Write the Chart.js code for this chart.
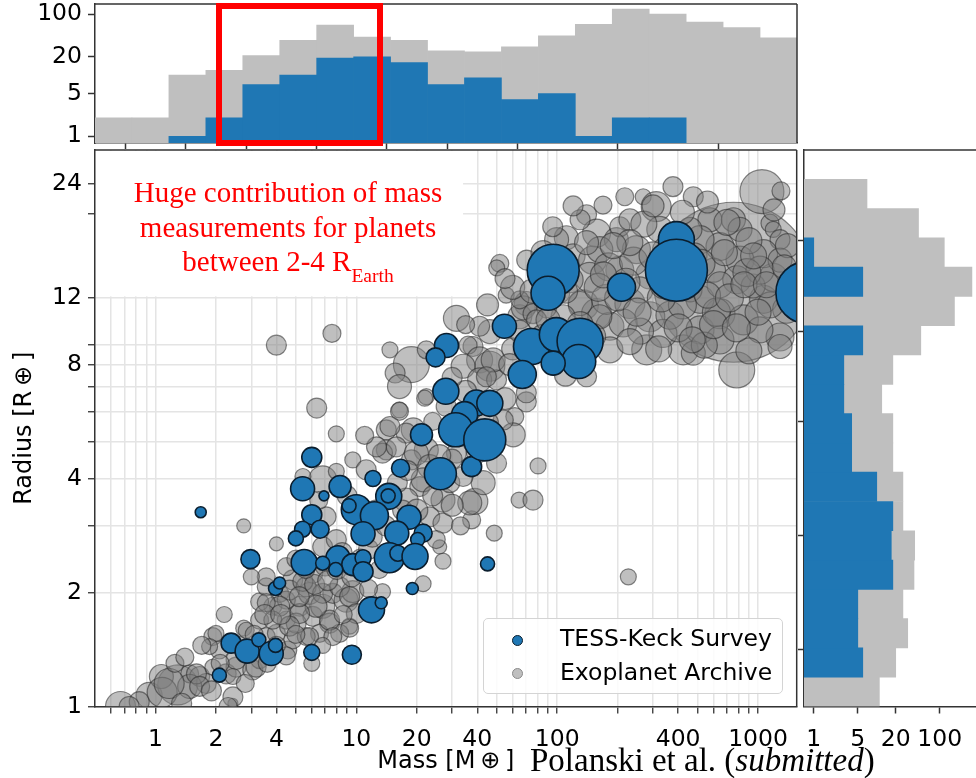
<!DOCTYPE html>
<html lang="en">
<head>
<meta charset="UTF-8">
<title>Mass-radius diagram: TESS-Keck Survey vs Exoplanet Archive</title>
<script src="https://cdn.jsdelivr.net/npm/chart.js@4"></script>
<style>
  html, body { margin: 0; padding: 0; background: #fff; overflow: hidden; }
  body { width: 976px; height: 778px; position: relative; font-family: 'DejaVu Sans', sans-serif; }
  canvas { position: absolute; }
  #note {
    position: absolute; left: 88px; top: 175px; width: 400px;
    text-align: center; color: #ff0000;
    font: 29px/34.5px 'Liberation Serif', serif;
  }
  #note .sub { font-size: 19.5px; position: relative; top: 11px; }
  #redBox {
    position: absolute; left: 216px; top: 3px; width: 167px; height: 143px;
    box-sizing: border-box; border: 6px solid #ff0000;
  }
  #legend {
    position: absolute; left: 483px; top: 618px; width: 300px; height: 76px;
    box-sizing: border-box; border: 1.5px solid #d4d4d4; border-radius: 5px;
    background: rgba(255,255,255,0.85);
  }
  #legend .item { position: absolute; left: 76px; font-size: 23.5px; line-height: 26px; color: #000; white-space: nowrap; }
  #legend .dot { position: absolute; left: 28px; width: 11px; height: 11px; border-radius: 50%; box-sizing: border-box; }
  #cite {
    position: absolute; left: 530px; top: 744px; white-space: nowrap;
    font: 33px/32px 'Liberation Serif', serif; color: #000;
  }
</style>
</head>
<body>
<canvas id="topHist" width="800" height="150" style="left:0;top:0"></canvas>
<canvas id="main" width="800" height="632" style="left:0;top:146px"></canvas>
<canvas id="rightHist" width="230" height="632" style="left:790px;top:146px"></canvas>

<div id="redBox"></div>
<div id="note">Huge contribution of mass<br>measurements for planets<br>between 2-4 R<span class="sub">Earth</span></div>
<div id="legend">
  <span class="dot" style="top:16px;background:#1f77b4;border:1.5px solid #0b1e2e"></span>
  <span class="item" style="top:6px">TESS-Keck Survey</span>
  <span class="dot" style="top:49px;background:#bfbfbf;border:1.5px solid #8a8a8a"></span>
  <span class="item" style="top:40px">Exoplanet Archive</span>
</div>
<div id="cite">Polanski et al. (<i>submitted</i>)</div>

<script>
// ---------- scatter data (mass in Earth masses, radius in Earth radii, marker size) ----------
const tksMass = [6.0, 1.68, 5.4, 6.9, 8.3, 12.1, 16.6, 26.2, 37.5, 14.5, 14.4, 10.0, 9.2, 6.0, 12.3, 18.3,
  5.4, 6.6, 5.0, 10.8, 15.9, 21.5, 20.2, 2.97, 5.5, 8.1, 9.6, 10.8, 14.6, 16.1, 19.6, 7.9, 10.8, 6.8,
  3.96, 4.15, 19.0, 11.9, 13.3, 2.38, 2.86, 3.27, 3.77, 3.96, 6.0, 9.5, 2.08, 45,
  54.6, 74.5, 99, 130, 128, 95.5, 67, 28.1, 24.8, 27.9, 39.6, 46.2, 34.6, 31.2, 43.6, 21.1,
  95.5, 90, 209, 392, 392, 1750];
const tksRadius = [4.55, 3.26, 3.76, 3.6, 3.81, 4.0, 4.26, 4.12, 4.3, 3.59, 3.6, 3.31, 3.39, 3.21, 3.19, 3.16,
  2.94, 2.94, 2.78, 2.86, 2.87, 2.87, 2.76, 2.45, 2.4, 2.47, 2.37, 2.47, 2.47, 2.54, 2.49, 2.3, 2.27, 2.39,
  2.05, 2.12, 2.05, 1.8, 1.88, 1.47, 1.4, 1.5, 1.38, 1.45, 1.39, 1.37, 1.21, 2.38,
  10.1, 8.93, 9.6, 9.22, 8.15, 8.07, 7.53, 8.98, 8.36, 6.8, 6.33, 6.32, 5.9, 5.38, 5.06, 5.22,
  14.2, 12.35, 12.8, 17.1, 14.2, 12.4];
const tksSize = [10, 5.5, 12, 5, 11, 8, 9, 16, 10, 13, 7, 15, 7, 10, 14, 12,
  8, 9, 7.5, 12, 12, 9, 7, 9.5, 13, 12, 11, 8, 15, 8, 13, 7, 10, 7,
  7, 6, 6, 13, 6, 10, 12, 7, 12, 7, 8, 9.5, 7, 7,
  12, 18, 17, 23, 17, 12, 14, 12, 9.5, 13, 13, 13, 13, 17, 21, 11,
  26, 17, 14, 18, 31, 31];

const archiveMass = [755, 0.67, 0.93, 1.29, 1.07, 1.48, 1.66, 1.93, 2.25, 2.52, 1.93, 2.08, 2.75, 3.05, 3.3, 3.56,
  3.3, 4.0, 4.48, 4.56, 4.83, 3.84, 4.15, 3.3, 3.56, 5.22, 5.85, 6.07, 6.8, 7.36, 7.64, 8.9,
  9.6, 9.26, 8.26, 6.56, 5.63, 5.02, 4.48, 4.83, 6.07, 4.48, 3.56, 4.0, 2.75, 7.95, 2.43, 0.83,
  0.74, 1.79, 1.48, 1.08, 1.17, 4.0, 6.35, 7.56, 14.7, 18.8, 31.5, 15.6, 16.4, 16.4, 22.3, 38.1,
  14.1, 19.2, 22.3, 21.9, 36, 46.2, 41.1, 46.2, 34, 41.1, 49.9, 55.7, 70.2, 65.1, 135, 157,
  183, 140, 70.2, 61.5, 60.4, 80.3, 16.4, 17.7, 14.7, 24.0, 22.3, 31.5, 49.9, 53.9, 18.8, 14.1,
  64.6, 75.8, 48.6, 37.5, 38.9, 42.8, 226, 27, 26, 21.5, 13.5, 36.7, 27, 20.7, 6.8, 5.42,
  9.6, 11.2, 13.5, 7.95, 4.65, 5.63, 6.8, 8.26, 9.26, 10.0, 9.26, 7.36, 6.3, 5.22, 4.15, 3.56,
  3.84, 4.65, 5.85, 7.64, 2.83, 2.0, 1.86, 2.52, 3.17, 4.48, 1.6, 2.43, 1.66, 2.43, 6.8, 7.95,
  7.07, 5.42, 15.8, 19.9, 23.2, 21.5, 29.2, 34, 17.7, 23.2, 27, 25, 12.6,
  1045, 377, 217, 169, 268, 476, 311, 140, 576, 754, 1146, 1190, 1286, 111, 157, 197,
  248, 205, 120, 150, 145, 176, 230, 289, 213, 163, 130, 279, 424, 783, 336, 514,
  646, 845, 1065, 1190, 1065, 813, 646, 514, 600, 783, 945, 1286, 1388, 1286, 103, 107,
  67.8, 51.8, 50, 65.1, 75.8, 88.5, 48, 44.4, 70.2, 135, 476, 1286, 81.9, 70.5, 99.3, 78.9,
  41.1, 205, 289, 163, 258, 514, 646, 458, 324, 116, 183, 103, 646, 1022, 364, 1022,
  458, 813, 1442, 230, 130,
  60, 85, 95, 120, 180, 240, 270, 350, 420, 560, 700, 900, 1200, 1400, 880, 620,
  420, 330, 260, 200, 150, 110, 540, 900, 1150, 380, 480, 230, 300, 1300, 85, 60, 110,
  2.2, 3.0, 5.0, 7.0, 8.5, 11.5, 12.5, 9.0, 6.5, 11, 24, 30, 16, 1.25, 2.8, 6, 13,
  45, 55, 75, 90, 130, 160, 190, 220, 250, 300, 340, 400, 450, 520, 560, 600,
  680, 720, 850, 950, 1100, 1350, 1000, 780, 470, 320, 230, 170, 140, 110, 65, 35,
  1.4, 1.7, 2.1, 2.6, 3.1, 3.5, 4.2, 5.2, 6.2, 7.2, 8.0, 9.5, 10.5, 5.6, 4.0, 3.6,
  5.0, 6.8, 8.6, 11.5, 2.3, 1.9, 1.35,
  12, 14, 17, 20, 30, 33, 18, 26, 40, 45, 28, 35, 55, 58, 30];
const archiveRadius = [13.2, 1.0, 1.07, 1.14, 1.2, 1.22, 1.2, 1.27, 1.22, 1.27, 1.53, 1.41, 1.61, 1.25, 1.33, 1.53,
  1.69, 1.56, 1.69, 1.41, 1.5, 1.84, 1.99, 1.89, 2.07, 1.84, 1.99, 1.73, 1.84, 1.66, 1.99, 1.91,
  2.01, 1.63, 1.56, 1.56, 1.53, 1.66, 1.91, 2.16, 2.25, 2.34, 2.2, 2.69, 3.0, 5.25, 1.02, 1.03,
  1.0, 1.15, 1.13, 1.09, 1.15, 9.0, 6.14, 9.67, 8.75, 8.0, 10.6, 7.6, 7.0, 6.07, 6.58, 8.93,
  5.38, 5.38, 8.75, 6.52, 9.0, 9.78, 8.23, 7.92, 7.92, 7.29, 7.29, 12.2, 11.6, 10.7, 11.5, 10.9,
  10.1, 7.43, 6.38, 5.83, 5.22, 4.32, 6.02, 5.27, 5.49, 5.66, 4.76, 4.67, 4.39, 5.71, 4.48, 4.76,
  3.51, 3.51, 2.87, 3.11, 3.48, 3.9, 2.2, 2.42, 2.64, 2.11, 2.01, 3.45, 3.51, 3.81, 3.97, 4.05,
  4.48, 4.22, 4.67, 4.18, 2.03, 2.07, 1.99, 2.07, 1.95, 1.76, 1.61, 1.69, 1.84, 1.76, 1.84, 1.88,
  1.69, 1.63, 1.53, 1.53, 1.59, 1.56, 1.44, 1.33, 1.27, 1.36, 1.22, 1.2, 1.13, 1.06, 2.64, 2.76,
  3.17, 2.14, 4.85, 4.67, 4.3, 3.97, 3.9, 4.05, 3.51, 3.17, 3.05, 2.76, 4.85,
  22.9, 23.6, 22.2, 21.1, 22.2, 22.2, 20.9, 19.9, 19.3, 19.3, 18.9, 18.2, 17.1, 17.3, 17.8, 17.1,
  16.1, 18.5, 15.5, 15.1, 13.6, 11.9, 11.6, 10.7, 10.3, 10.7, 11.6, 8.75, 8.75, 7.74, 9.67, 9.88,
  10.9, 10.5, 11.9, 13.6, 15.7, 15.1, 16.4, 17.1, 14.2, 13.4, 12.9, 15.1, 11.2, 9.46, 12.35, 10.7,
  11.3, 14.8, 14.4, 11.86, 10.9, 11.3, 8.23, 7.43, 6.74, 7.92, 8.58, 8.93, 13.8, 15.1, 17.1, 10.5,
  10.1, 14.2, 13.8, 16.1, 12.6, 11.9, 13.0, 18.2, 18.2, 13.4, 8.75, 9.29, 9.29, 9.88, 10.8, 14.2,
  12.6, 18.2, 12.6, 19.3, 19.3,
  12.8, 15.8, 18.5, 21.0, 14.5, 15.0, 18.8, 16.0, 20.2, 21.5, 19.0, 17.0, 20.5, 16.5, 14.0, 11.0,
  11.5, 12.0, 9.8, 12.0, 9.5, 12.5, 9.0, 8.7, 11.5, 14.5, 15.5, 16.8, 21.0, 23.0, 9.5, 8.8, 7.5,
  1.75, 2.2, 2.45, 2.35, 2.55, 2.6, 3.3, 3.6, 3.5, 5.2, 3.6, 4.5, 3.9, 1.3, 1.15, 1.3, 2.3,
  11.5, 13.5, 12.5, 10.5, 10.2, 12.8, 16.5, 13.2, 11.0, 15.5, 13.0, 10.0, 13.5, 14.8, 12.2, 10.2,
  15.8, 12.0, 13.0, 15.5, 13.0, 14.5, 11.0, 10.0, 9.3, 8.8, 9.2, 13.8, 16.8, 14.8, 9.8, 10.2,
  1.35, 1.45, 1.3, 1.45, 1.55, 1.75, 1.75, 1.95, 2.1, 2.15, 2.3, 2.2, 2.45, 2.3, 1.45, 1.3,
  1.55, 1.45, 1.75, 2.05, 1.0, 1.1, 1.02,
  2.8, 3.0, 3.3, 3.3, 3.4, 3.0, 4.2, 4.6, 4.7, 5.6, 6.2, 6.8, 6.5, 8.0, 7.4];
const archiveSize = [80, 15, 13, 20, 12, 9, 10, 8, 10, 10, 9, 9, 8, 10, 9, 9,
  9, 9, 9, 9, 9, 9, 9, 9, 9, 10, 11, 10, 12, 10, 10, 12,
  11, 8, 9, 9, 9, 10, 9, 10, 10, 9, 9, 7, 7, 8, 5, 10,
  10, 10, 12, 15, 15, 10, 10, 9, 8, 18, 13, 10, 12, 8, 8, 10,
  10, 12, 9, 8, 9, 12, 13, 15, 12, 12, 10, 8, 12, 12, 15, 15,
  14, 10, 10, 9, 12, 8, 9, 10, 10, 9, 12, 10, 10, 10, 10, 10,
  8, 10, 8, 9, 13, 12, 8, 8, 7, 8, 8, 12, 12, 10, 14, 8,
  8, 10, 10, 8, 10, 10, 10, 10, 10, 10, 9, 10, 11, 10, 10, 9,
  9, 10, 9, 9, 8, 8, 8, 10, 10, 9, 10, 8, 10, 10, 10, 10,
  10, 10, 10, 12, 12, 12, 10, 10, 12, 10, 10, 9, 10,
  22, 10, 9, 9, 8, 10, 15, 10, 12, 12, 9, 8, 10, 12, 14, 12,
  14, 10, 12, 14, 15, 15, 15, 15, 14, 12, 12, 15, 15, 18, 14, 14,
  15, 15, 14, 14, 14, 14, 14, 14, 12, 14, 12, 12, 14, 14, 10, 12,
  12, 9, 8, 9, 10, 10, 12, 10, 10, 8, 12, 12, 12, 10, 12, 10,
  10, 14, 14, 13, 13, 14, 13, 12, 13, 13, 13, 11, 14, 13, 14, 14,
  12, 12, 12, 11, 10,
  12, 12, 10, 10, 14, 14, 13, 14, 12, 11, 13, 13, 11, 12, 14, 14,
  14, 14, 13, 13, 13, 12, 13, 13, 13, 14, 13, 13, 11, 9, 12, 11, 11,
  8, 8, 9, 10, 10, 10, 10, 10, 9, 9, 10, 10, 10, 9, 9, 8, 9,
  11, 10, 12, 12, 13, 14, 13, 14, 14, 14, 14, 14, 14, 14, 13, 14,
  13, 14, 13, 13, 13, 12, 13, 14, 13, 13, 13, 13, 12, 12, 11, 9,
  9, 9, 9, 9, 9, 10, 10, 10, 10, 10, 10, 10, 10, 9, 9, 9,
  9, 8, 9, 9, 9, 10, 10,
  10, 10, 10, 11, 11, 9, 10, 11, 11, 11, 10, 11, 11, 11, 10];

// ---------- histogram data ----------
// mass bins (lower edge, Earth masses), 19 equal log-width bins
const massBinStart = [0.50, 0.76, 1.17, 1.78, 2.72, 4.15, 6.34, 9.67, 14.8, 22.6, 34.4, 52.6, 80.3, 123, 187, 286, 436, 666, 1017];
const archiveMassCounts = [2, 2, 10, 12, 21, 37, 66, 42, 37, 25, 24, 29, 44, 68, 121, 100, 74, 60, 41];
const tksMassCounts = [null, null, 1, 2, 7, 10, 19, 20, 16, 7, 9, 4, 5, 1, 2, 2, null, null, null];

// radius bins (lower edge, Earth radii), 19 equal log-width bins
const radiusBinStart = [1.00, 1.20, 1.43, 1.71, 2.04, 2.44, 2.92, 3.49, 4.17, 4.99, 5.96, 7.13, 8.52, 10.2, 12.2, 14.5, 17.4, 20.8, 24.8];
const archiveRadiusCounts = [11, 20, 31, 26, 39, 40, 26, 26, 18, 18, 12, 18, 50, 171, 324, 118, 46, 7, null];
const tksRadiusCounts = [null, 6, 5, 5, 18, 17, 18, 10, 4, 4, 3, 3, 6, null, 6, 1, null, null, null];

// ---------- axes ----------
const massMin = 0.5, massMax = 1557;
const radiusMin = 1, radiusMax = 29.5;
const massGrid = [0.6, 0.7, 0.8, 0.9, 1, 2, 3, 4, 5, 6, 7, 8, 9, 10, 20, 30, 40, 50, 60, 70, 80, 90, 100, 200, 300, 400, 500, 600, 700, 800, 900, 1000];
const massTicks = [1, 2, 4, 10, 20, 40, 100, 400, 1000];
const radiusGrid = [1, 2, 3, 4, 5, 6, 7, 8, 9, 12, 20, 24];
const radiusTicks = [1, 2, 4, 8, 12, 24];
const countTicks = [1, 5, 20, 100];

const BLUE = '#1f77b4';
const HIST_GRAY = '#bfbfbf';
const SPINE = '#333333';
const TICK_FONT = { size: 23.5 };
const TITLE_FONT = { size: 24 };

Chart.defaults.font.family = "'DejaVu Sans', sans-serif";
Chart.defaults.color = '#000';

// top / right spines (left and bottom come from the axes)
const frame = {
  id: 'frame',
  afterDraw(chart, args, opts) {
    const { ctx, chartArea: a } = chart;
    ctx.save();
    ctx.strokeStyle = SPINE;
    ctx.lineWidth = 1.5;
    ctx.beginPath();
    ctx.moveTo(a.left, a.top); ctx.lineTo(a.right, a.top);
    if (opts.right !== false) { ctx.moveTo(a.right, a.top); ctx.lineTo(a.right, a.bottom); }
    ctx.stroke();
    ctx.restore();
  }
};

// white backing of the red note, hides the grid behind the text
const noteBg = {
  id: 'noteBg',
  beforeDatasetsDraw(chart) {
    const { ctx, chartArea: a, scales } = chart;
    const right = scales.x.getPixelForValue(34);
    const bottom = scales.y.getPixelForValue(12) - 1.5;
    ctx.save();
    ctx.fillStyle = '#fff';
    ctx.fillRect(a.left + 1, a.top + 1, right - a.left - 1, bottom - a.top - 1);
    ctx.restore();
  }
};

function setTicks(values) {
  return axis => { axis.ticks = values.map(v => ({ value: v })); };
}

// fixed axis thickness, and no extra room reserved for the end labels
function fixSize(prop, size) {
  return axis => {
    axis[prop] = size;
    axis.paddingTop = 0; axis.paddingBottom = 0;
    axis.paddingLeft = 0; axis.paddingRight = 0;
  };
}

const baseOpts = {
  responsive: false,
  animation: false,
  events: [],
  plugins: { legend: { display: false }, tooltip: { enabled: false } }
};

// ---------- top histogram (mass) ----------
new Chart(document.getElementById('topHist'), {
  type: 'bar',
  data: {
    labels: massBinStart.map(String),
    datasets: [
      { label: 'TESS-Keck Survey', data: tksMassCounts, backgroundColor: BLUE, grouped: false, barPercentage: 1, categoryPercentage: 1 },
      { label: 'Exoplanet Archive', data: archiveMassCounts, backgroundColor: HIST_GRAY, grouped: false, barPercentage: 1, categoryPercentage: 1 }
    ]
  },
  options: {
    ...baseOpts,
    layout: { autoPadding: false, padding: { top: 4, right: 3, left: 0, bottom: 0 } },
    plugins: { ...baseOpts.plugins, frame: {} },
    scales: {
      x: { type: 'category', display: false },
      xl: {
        type: 'logarithmic', position: 'bottom', min: massMin, max: massMax,
        afterBuildTicks: setTicks(massTicks),
        ticks: { display: false },
        grid: { drawOnChartArea: false, tickLength: 6, tickColor: SPINE, tickWidth: 1.5 },
        border: { color: SPINE, width: 1.5 },
        afterFit: fixSize('height', 7)
      },
      y: {
        type: 'logarithmic', min: 0.776, max: 146,
        afterBuildTicks: setTicks(countTicks),
        ticks: { callback: v => String(v), font: TICK_FONT, padding: 6, autoSkip: false },
        grid: { drawOnChartArea: false, tickLength: 7, tickColor: SPINE, tickWidth: 1.5 },
        border: { color: SPINE, width: 1.5 },
        afterFit: fixSize('width', 95)
      }
    }
  },
  plugins: [frame]
});

// ---------- main mass-radius scatter ----------
const tksPoints = tksMass.map((m, i) => ({ x: m, y: tksRadius[i], r: tksSize[i] }));
const archivePoints = archiveMass.map((m, i) => ({ x: m, y: archiveRadius[i], r: archiveSize[i] }));

new Chart(document.getElementById('main'), {
  type: 'bubble',
  data: {
    datasets: [
      { label: 'TESS-Keck Survey', data: tksPoints, backgroundColor: BLUE, borderColor: '#0b1e2e', borderWidth: 1.6, clip: 0 },
      { label: 'Exoplanet Archive', data: archivePoints, backgroundColor: 'rgba(128,128,128,0.5)', borderColor: 'rgba(40,40,40,0.55)', borderWidth: 1.2, clip: 0 }
    ]
  },
  options: {
    ...baseOpts,
    layout: { autoPadding: false, padding: { top: 4, right: 3.3, left: 0, bottom: 0 } },
    plugins: { ...baseOpts.plugins, frame: {} },
    scales: {
      x: {
        type: 'logarithmic', min: massMin, max: massMax,
        afterBuildTicks: setTicks(massGrid),
        ticks: { callback: v => massTicks.includes(v) ? String(v) : '', font: TICK_FONT, padding: 12, autoSkip: false, maxRotation: 0 },
        grid: { color: '#e4e4e4', lineWidth: 1.5, tickLength: 7, tickColor: SPINE, tickWidth: 1.3 },
        border: { color: SPINE, width: 1.5 },
        title: { display: true, text: 'Mass [M\u2009\u2295\u2009]', font: TITLE_FONT, padding: { top: 0, bottom: 2 } },
        afterFit: fixSize('height', 71.5)
      },
      y: {
        type: 'logarithmic', min: radiusMin, max: radiusMax,
        afterBuildTicks: setTicks(radiusGrid),
        ticks: { callback: v => radiusTicks.includes(v) ? String(v) : '', font: TICK_FONT, padding: 6, autoSkip: false },
        grid: { color: '#e4e4e4', lineWidth: 1.5, tickLength: 7, tickColor: SPINE, tickWidth: 1.3 },
        border: { color: SPINE, width: 1.5 },
        title: { display: true, text: 'Radius [R\u2009\u2295\u2009]', font: TITLE_FONT, padding: { top: 10, bottom: 0 } },
        afterFit: fixSize('width', 95)
      }
    }
  },
  plugins: [noteBg, frame]
});

// ---------- right histogram (radius) ----------
new Chart(document.getElementById('rightHist'), {
  type: 'bar',
  data: {
    labels: radiusBinStart.map(String),
    datasets: [
      { label: 'TESS-Keck Survey', data: tksRadiusCounts, backgroundColor: BLUE, grouped: false, barPercentage: 1, categoryPercentage: 1 },
      { label: 'Exoplanet Archive', data: archiveRadiusCounts, backgroundColor: HIST_GRAY, grouped: false, barPercentage: 1, categoryPercentage: 1 }
    ]
  },
  options: {
    ...baseOpts,
    indexAxis: 'y',
    layout: { autoPadding: false, padding: { top: 4, right: 20, left: 0, bottom: 0 } },
    plugins: { ...baseOpts.plugins, frame: { right: false } },
    scales: {
      y: { type: 'category', display: false, reverse: true },
      yl: {
        type: 'logarithmic', position: 'left', min: radiusMin, max: radiusMax,
        afterBuildTicks: setTicks(radiusTicks),
        ticks: { display: false },
        grid: { drawOnChartArea: false, tickLength: 6, tickColor: SPINE, tickWidth: 1.5 },
        border: { color: SPINE, width: 1.5 },
        afterFit: fixSize('width', 14)
      },
      x: {
        type: 'logarithmic', position: 'bottom', min: 0.74, max: 904,
        afterBuildTicks: setTicks(countTicks),
        ticks: { callback: v => String(v), font: TICK_FONT, padding: 12, autoSkip: false, maxRotation: 0 },
        grid: { drawOnChartArea: false, tickLength: 7, tickColor: SPINE, tickWidth: 1.5 },
        border: { color: SPINE, width: 1.5 },
        afterFit: fixSize('height', 71.5)
      }
    }
  },
  plugins: [frame]
});
</script>
</body>
</html>
